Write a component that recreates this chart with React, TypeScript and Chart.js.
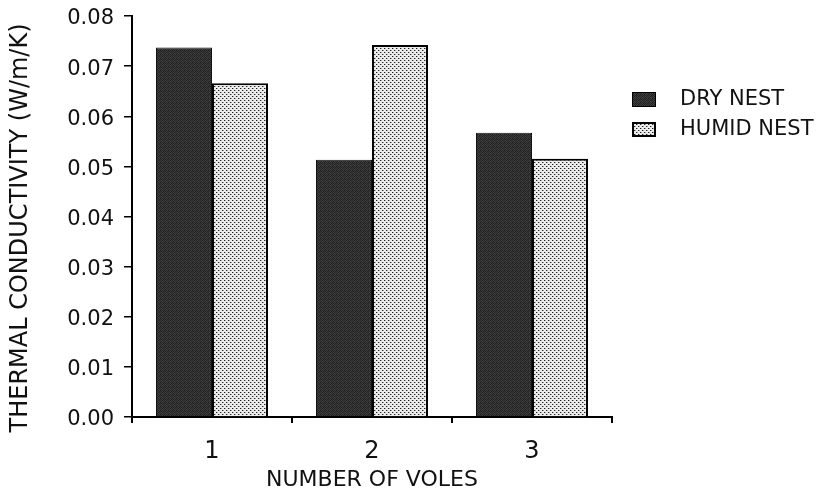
import React, { useEffect, useRef } from "react";
import { Chart, registerables } from "chart.js";

Chart.register(...registerables);

const categories = ["1", "2", "3"];
const dryNest = [0.0737, 0.0513, 0.0567];
const humidNest = [0.0666, 0.0742, 0.0515];
const seriesLabels = ["DRY NEST", "HUMID NEST"];
const yMin = 0;
const yMax = 0.08;
const yStep = 0.01;
const xTitle = "NUMBER OF VOLES";
const yTitle = "THERMAL CONDUCTIVITY (W/m/K)   ";

const FONT = '"DejaVu Sans"';

function makeDryPattern(ctx: CanvasRenderingContext2D) {
  const c = document.createElement("canvas");
  c.width = 4;
  c.height = 4;
  const g = c.getContext("2d")!;
  const shades = [
    "#2a2a2a", "#404040", "#1e1e1e", "#363636",
    "#3a3a3a", "#222222", "#454545", "#2c2c2c",
    "#1c1c1c", "#383838", "#262626", "#424242",
    "#333333", "#282828", "#3c3c3c", "#202020",
  ];
  for (let i = 0; i < 16; i++) {
    g.fillStyle = shades[i];
    g.fillRect(i % 4, Math.floor(i / 4), 1, 1);
  }
  return ctx.createPattern(c, "repeat")!;
}

function makeHumidPattern(ctx: CanvasRenderingContext2D) {
  const c = document.createElement("canvas");
  c.width = 4;
  c.height = 4;
  const g = c.getContext("2d")!;
  g.fillStyle = "#ececec";
  g.fillRect(0, 0, 4, 4);
  g.fillStyle = "#222222";
  g.fillRect(0, 0, 1, 1);
  g.fillRect(2, 2, 1, 1);
  g.fillStyle = "#a0a0a0";
  g.fillRect(1, 0, 1, 1);
  g.fillRect(3, 2, 1, 1);
  return ctx.createPattern(c, "repeat")!;
}

const legendPlugin = {
  id: "customLegend",
  afterDraw(chart: any) {
    const ctx = chart.ctx as CanvasRenderingContext2D;
    const { right, top } = chart.chartArea;
    ctx.save();
    chart.data.datasets.forEach((ds: any, i: number) => {
      const bx = right + 20;
      const by = top + 76 + i * 30;
      ctx.fillStyle = ds.backgroundColor;
      ctx.fillRect(bx, by, 24, 15);
      ctx.strokeStyle = "#000";
      ctx.lineWidth = i === 0 ? 1 : 2;
      ctx.strokeRect(bx + ctx.lineWidth / 2, by + ctx.lineWidth / 2, 24 - ctx.lineWidth, 15 - ctx.lineWidth);
      ctx.fillStyle = "#111";
      ctx.font = `21px ${FONT}`;
      ctx.textAlign = "left";
      ctx.textBaseline = "middle";
      ctx.fillText(ds.label, right + 68, by + 8);
    });
    ctx.restore();
  },
};

export default function App() {
  const ref = useRef<HTMLCanvasElement>(null);

  useEffect(() => {
    const canvas = ref.current!;
    const ctx = canvas.getContext("2d")!;
    const dry = makeDryPattern(ctx);
    const humid = makeHumidPattern(ctx);

    const chart = new Chart(canvas, {
      type: "bar",
      data: {
        labels: categories,
        datasets: [
          {
            label: seriesLabels[0],
            data: dryNest,
            backgroundColor: dry as any,
            borderColor: "#111",
            borderWidth: 1,
            categoryPercentage: 0.7,
            barPercentage: 1,
          },
          {
            label: seriesLabels[1],
            data: humidNest,
            backgroundColor: humid as any,
            borderColor: "#000",
            borderWidth: 2,
            categoryPercentage: 0.7,
            barPercentage: 1,
          },
        ],
      },
      options: {
        responsive: false,
        animation: false,
        layout: { padding: { top: 8, right: 203, left: 0, bottom: 0 } },
        plugins: {
          legend: { display: false },
          tooltip: { enabled: false },
        },
        scales: {
          x: {
            grid: {
              display: true,
              drawOnChartArea: false,
              drawTicks: true,
              tickLength: 6,
              color: "#000",
              lineWidth: 2,
              offset: true,
            },
            border: { display: true, color: "#000", width: 2 },
            ticks: {
              font: { family: FONT, size: 24 },
              color: "#111",
              padding: 14,
            },
            title: {
              display: true,
              text: xTitle,
              font: { family: FONT, size: 22 },
              color: "#111",
              padding: { top: 0, bottom: 0 },
            },
            afterFit: (s: any) => {
              s.height = 76;
              s.paddingLeft = 0;
              s.paddingRight = 0;
            },
          },
          y: {
            min: yMin,
            max: yMax,
            ticks: {
              stepSize: yStep,
              callback: (v: any) => Number(v).toFixed(2),
              font: { family: FONT, size: 21 },
              color: "#111",
              padding: 10,
              labelOffset: 3,
            },
            grid: {
              display: true,
              drawOnChartArea: false,
              drawTicks: true,
              tickLength: 8,
              color: "#000",
              lineWidth: 1.5,
            },
            border: { display: true, color: "#000", width: 2 },
            title: {
              display: true,
              text: yTitle,
              font: { family: FONT, size: 24 },
              color: "#111",
              padding: { top: -2, bottom: 0 },
            },
            afterFit: (s: any) => {
              s.width = 124;
              s.paddingTop = 0;
              s.paddingBottom = 0;
            },
          },
        },
      },
      plugins: [legendPlugin],
    });

    return () => chart.destroy();
  }, []);

  return (
    <div style={{ width: 807, height: 485 }}>
      <canvas ref={ref} width={807} height={485} style={{ display: "block" }} />
    </div>
  );
}
